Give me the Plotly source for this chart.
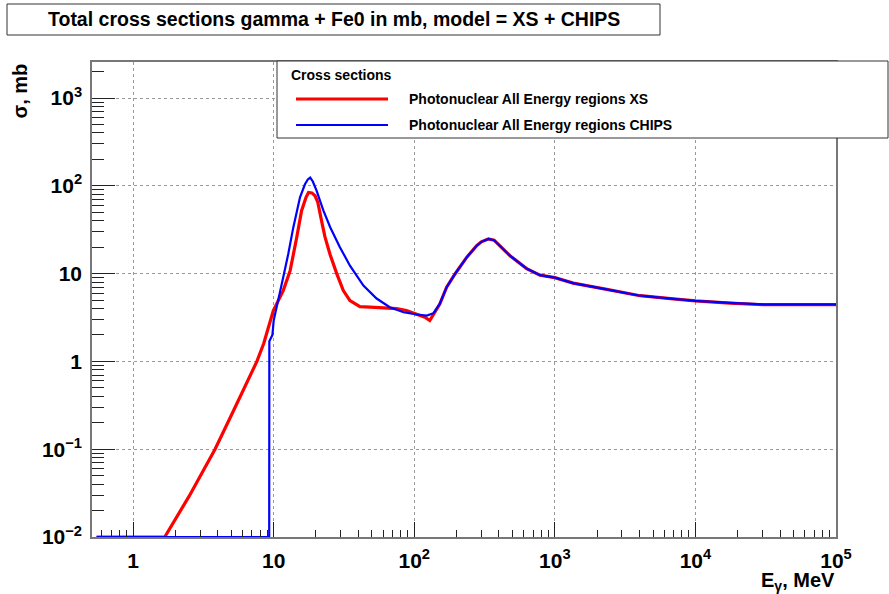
import plotly.graph_objects as go

# ---------------- data ----------------
energy_xs = [0.55, 1.68, 2.5, 3.16, 3.83, 5.1, 6.3, 7.6, 8.5, 9.95, 11.7, 13.1, 14.6, 15.8,
             17.0, 17.7, 18.7, 19.7, 20.6, 21.4, 22.3, 23.2, 24.2, 25.2, 28.1, 31.3, 34.9, 41.1, 48.5, 60, 75,
             88, 104, 119, 129, 137, 152, 170, 195, 236, 278, 300, 337, 370, 407, 480, 630,
             785, 1000, 1350, 2340, 4040, 6960, 10000, 17600, 30400, 100000]
sigma_xs = [0.01, 0.01, 0.029, 0.058, 0.1, 0.26, 0.53, 1.0, 1.6, 3.8, 6.4, 10.8, 25.9, 52,
            74, 84, 83, 77, 65, 50, 35, 26, 20, 16.5, 10, 6.4, 4.93, 4.2, 4.15, 4.08, 4.0,
            3.8, 3.48, 3.19, 2.92, 3.4, 4.5, 7.0, 9.9, 15.3, 20.8, 23, 24.8, 24, 20.8, 16, 11.4,
            9.6, 9.0, 7.8, 6.6, 5.6, 5.16, 4.9, 4.62, 4.42, 4.42]

energy_chips = [0.55, 9.3, 9.32, 9.8, 10.0, 10.8, 11.7, 12.7, 13.8, 15.4, 16.7, 17.5, 18.2,
                19.0, 20.2, 22.6, 25.2, 29.6, 34.9, 43.5, 54, 67, 84, 104, 123, 137, 152,
                170, 195, 236, 278, 300, 337, 370, 407, 480, 630, 785, 1000, 1350, 2340,
                4040, 6960, 10000, 17600, 30400, 100000]
sigma_chips = [0.01, 0.01, 1.7, 2.0, 2.9, 4.9, 9.1, 16.7, 33.6, 74, 104, 118, 124,
               112, 88, 52, 34, 20, 12.3, 7.3, 5.2, 4.14, 3.63, 3.42, 3.33, 3.54, 4.53,
               7.0, 9.9, 15.3, 20.8, 23, 24.8, 24, 20.8, 16, 11.4, 9.6, 9.0, 7.8, 6.6,
               5.6, 5.16, 4.9, 4.65, 4.45, 4.45]

x_tickvals = [1, 10, 100, 1000, 10000, 100000]
x_ticktext = ["1", "10", "10<sup>2</sup>", "10<sup>3</sup>", "10<sup>4</sup>", "10<sup>5</sup>"]
y_tickvals = [0.01, 0.1, 1, 10, 100, 1000]
y_ticktext = ["10<sup>\u22122</sup>", "10<sup>\u22121</sup>", "1", "10", "10<sup>2</sup>", "10<sup>3</sup>"]

title_text = "Total cross sections gamma + Fe0 in mb, model = XS + CHIPS"
legend_header = "Cross sections"
name_xs = "Photonuclear All Energy regions XS"
name_chips = "Photonuclear All Energy regions CHIPS"

# ---------------- layout helpers ----------------
W_FIG, H_FIG = 889, 594
L, R, T, B = 92, 836, 62, 537
PW, PH = R - L, B - T


def px(x):
    return (x - L) / PW


def py(y):
    return (B - y) / PH


FONT = "Liberation Sans, Arial, Helvetica, sans-serif"

x_minor = []
for d in [0.1, 1, 10, 100, 1000, 10000]:
    for k in range(2, 10):
        v = k * d
        if 0.5 < v < 100000:
            x_minor.append(v)
y_minor = []
for d in [0.01, 0.1, 1, 10, 100, 1000]:
    for k in range(2, 10):
        v = k * d
        if v < 2600:
            y_minor.append(v)

fig = go.Figure()
fig.add_trace(go.Scatter(x=energy_xs, y=sigma_xs, mode="lines", name=name_xs,
                         line=dict(color="#ff0000", width=3.2), showlegend=False))
fig.add_trace(go.Scatter(x=energy_chips, y=sigma_chips, mode="lines", name=name_chips,
                         line=dict(color="#0000ff", width=2.2), showlegend=False))

axis_common = dict(
    type="log", showline=True, mirror=True, linecolor="#777", linewidth=1.5,
    ticks="inside", tickcolor="#222", tickwidth=1,
    showgrid=True, gridcolor="#999", griddash="dot", gridwidth=1,
    zeroline=False,
    tickfont=dict(family=FONT, size=21, color="black", weight="bold"),
)

fig.update_xaxes(
    range=[-0.292, 5], tickvals=x_tickvals, ticktext=x_ticktext, ticklen=15,
    ticklabelstandoff=4,
    minor=dict(tickvals=x_minor, ticks="inside", ticklen=7, tickcolor="#222", showgrid=False),
    **axis_common,
)
fig.update_yaxes(
    range=[-2, 3.41], tickvals=y_tickvals, ticktext=y_ticktext, ticklen=23,
    ticklabelstandoff=4,
    minor=dict(tickvals=y_minor, ticks="inside", ticklen=12, tickcolor="#222", showgrid=False),
    **axis_common,
)

shapes = [
    # title box
    dict(type="rect", xref="paper", yref="paper", x0=px(7), x1=px(660), y0=py(35), y1=py(4),
         line=dict(color="#333", width=1), fillcolor="white", layer="above"),
    # legend box
    dict(type="rect", xref="paper", yref="paper", x0=px(277), x1=px(888), y0=py(138), y1=py(61),
         line=dict(color="#333", width=1), fillcolor="white", layer="above"),
    # legend samples
    dict(type="line", xref="paper", yref="paper", x0=px(296), x1=px(388), y0=py(99), y1=py(99),
         line=dict(color="#ff0000", width=3.2), layer="above"),
    dict(type="line", xref="paper", yref="paper", x0=px(296), x1=px(388), y0=py(125), y1=py(125),
         line=dict(color="#0000ff", width=2.2), layer="above"),
]

bold = dict(family=FONT, color="black", weight="bold")
annotations = [
    dict(text=title_text, xref="paper", yref="paper", x=px(333.5), y=py(19.5),
         xanchor="center", yanchor="middle", showarrow=False, font=dict(size=19.5, **bold)),
    dict(text=legend_header, xref="paper", yref="paper", x=px(289), y=py(75),
         xanchor="left", yanchor="middle", showarrow=False, font=dict(size=14, **bold)),
    dict(text=name_xs, xref="paper", yref="paper", x=px(407), y=py(99),
         xanchor="left", yanchor="middle", showarrow=False, font=dict(size=14, **bold)),
    dict(text=name_chips, xref="paper", yref="paper", x=px(407), y=py(125),
         xanchor="left", yanchor="middle", showarrow=False, font=dict(size=14, **bold)),
    dict(text="\u03c3, mb", xref="paper", yref="paper", x=px(19), y=py(62),
         xanchor="center", yanchor="top", textangle=-90, showarrow=False, font=dict(size=20, **bold)),
    dict(text="E<sub>\u03b3</sub>, MeV", xref="paper", yref="paper", x=px(837), y=py(581),
         xanchor="right", yanchor="middle", showarrow=False, font=dict(size=20, **bold)),
]

fig.update_layout(
    width=W_FIG, height=H_FIG,
    margin=dict(l=L, r=W_FIG - R, t=T, b=H_FIG - B, pad=0),
    paper_bgcolor="white", plot_bgcolor="white",
    showlegend=False,
    shapes=shapes, annotations=annotations,
)

fig.write_html("out.html")
